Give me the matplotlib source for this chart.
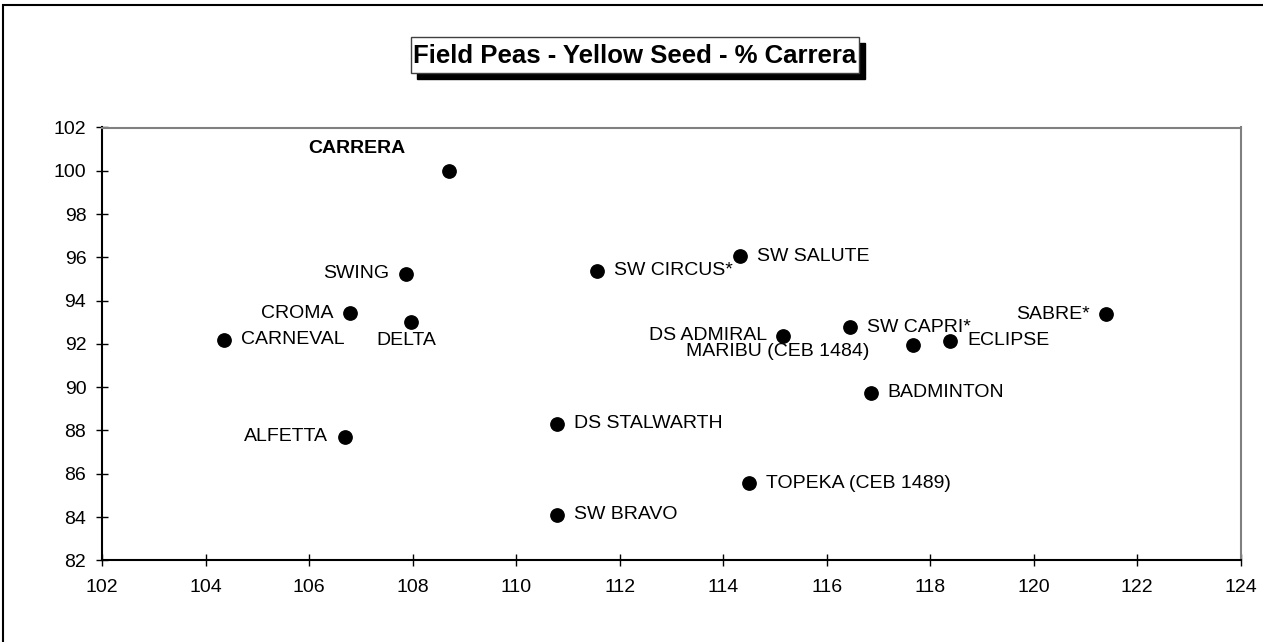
import matplotlib
matplotlib.use("Agg")
import matplotlib.pyplot as plt
from matplotlib.patches import Rectangle

# yield vs % carrera data
varieties = ["CARRERA", "SWING", "CROMA", "DELTA", "CARNEVAL", "ALFETTA",
             "SW CIRCUS*", "SW SALUTE", "DS STALWARTH", "SW BRAVO",
             "TOPEKA (CEB 1489)", "DS ADMIRAL", "SW CAPRI*", "MARIBU (CEB 1484)",
             "ECLIPSE", "BADMINTON", "SABRE*"]
x_vals = [108.7, 107.87, 106.8, 107.97, 104.36, 106.7,
          111.57, 114.32, 110.8, 110.8,
          114.5, 115.15, 116.45, 117.66,
          118.39, 116.85, 121.4]
y_vals = [100.0, 95.25, 93.42, 93.03, 92.2, 87.7,
          95.37, 96.05, 88.3, 84.1,
          85.55, 92.37, 92.77, 91.95,
          92.15, 89.75, 93.38]

x_ticks = list(range(102, 125, 2))
y_ticks = list(range(82, 103, 2))
title = "Field Peas - Yellow Seed - % Carrera"

# label placement: (dx px, dy px, ha)
label_pos = {
    "CARRERA": (-92, 22, "center"),
    "SWING": (-17, 0, "right"),
    "CROMA": (-17, 0, "right"),
    "DELTA": (-5, -19, "center"),
    "ALFETTA": (-17, 0, "right"),
    "DS ADMIRAL": (-16, 0, "right"),
    "MARIBU (CEB 1484)": (-135, -7, "center"),
    "SABRE*": (-16, 0, "right"),
}

W, H = 1263, 642
DPI = 100
plt.rcParams['font.family'] = ['Liberation Sans', 'DejaVu Sans']

fig = plt.figure(figsize=(W / DPI, H / DPI), dpi=DPI)
fig.patch.set_facecolor("white")

# outer chart frame (runs off the right/bottom edge)
fig.add_artist(Rectangle((3 / W, -0.05), 1.1, 1 - 5 / H + 0.05,
                         transform=fig.transFigure, fill=False,
                         edgecolor="black", lw=1.5))

ax = fig.add_axes([102 / W, 1 - 560.3 / H, (1240.7 - 102) / W, (560.3 - 127.5) / H])
ax.plot(x_vals, y_vals, "o", color="black", markersize=9.6, clip_on=False)

for name, xv, yv in zip(varieties, x_vals, y_vals):
    dx, dy, ha = label_pos.get(name, (17, 0, "left"))
    ax.annotate(name, (xv, yv), xytext=(dx * 0.72, dy * 0.72),
                textcoords="offset points", ha=ha, va="center",
                fontsize=14, fontweight="bold" if name == "CARRERA" else "normal")

ax.set_xlim(102, 124)
ax.set_ylim(82, 102)
ax.set_xticks(x_ticks)
ax.set_yticks(y_ticks)
ax.tick_params(direction="inout", length=8.6, width=1, labelsize=14, color="black")
ax.tick_params(axis="x", pad=9)
ax.tick_params(axis="y", pad=7)
for side in ["left", "bottom"]:
    ax.spines[side].set_color("black")
    ax.spines[side].set_linewidth(1.5)
for side in ["top", "right"]:
    ax.spines[side].set_color("#808080")
    ax.spines[side].set_linewidth(1.5)

# title box with drop shadow
bx0, bx1, by0, by1 = 411, 859, 37, 73
fig.add_artist(Rectangle(((bx0 + 6) / W, 1 - (by1 + 6) / H), (bx1 - bx0) / W, (by1 - by0) / H,
                         transform=fig.transFigure, facecolor="black", edgecolor="black"))
fig.add_artist(Rectangle((bx0 / W, 1 - by1 / H), (bx1 - bx0) / W, (by1 - by0) / H,
                         transform=fig.transFigure, facecolor="white", edgecolor="#404040", lw=1))
fig.text((bx0 + bx1) / 2 / W, 1 - 56 / H, title, ha="center", va="center",
         fontsize=18.5, fontweight="bold")

fig.savefig("out.png", dpi=DPI)
